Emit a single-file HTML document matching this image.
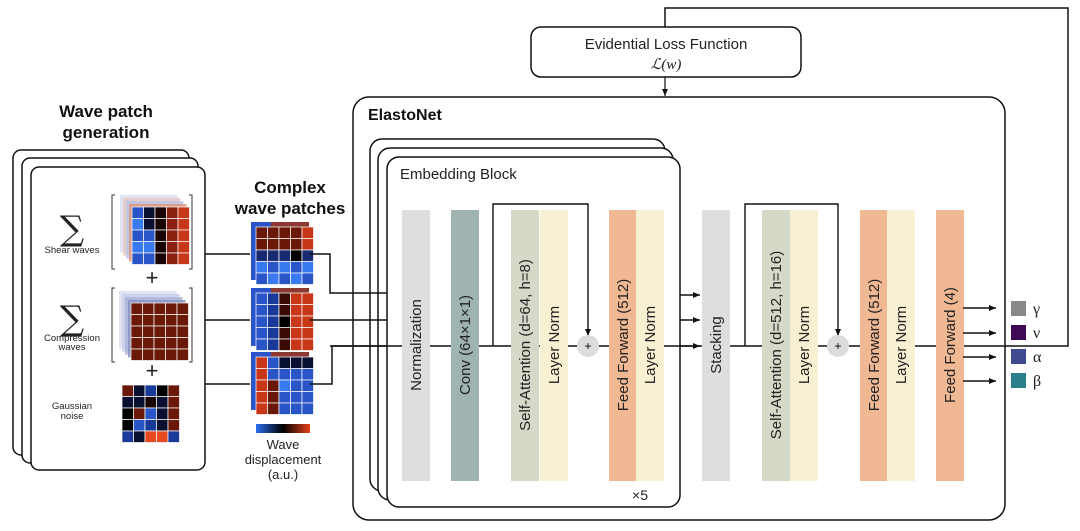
<!DOCTYPE html>
<html><head><meta charset="utf-8"><style>
html,body{margin:0;padding:0;background:#fff;}
svg{display:block;font-family:"Liberation Sans",sans-serif;}
</style></head><body>
<svg id="s" width="1080" height="531" viewBox="0 0 1080 531" xmlns="http://www.w3.org/2000/svg">
<defs>
<marker id="ar" markerWidth="8" markerHeight="8" refX="7" refY="4" orient="auto" markerUnits="userSpaceOnUse"><path d="M0,1 L7,4 L0,7 z" fill="#111"/></marker>
<linearGradient id="cb" x1="0" x2="1"><stop offset="0" stop-color="#2a6ef0"/><stop offset="0.5" stop-color="#000"/><stop offset="1" stop-color="#e8401a"/></linearGradient>
</defs>
<polyline points="1047,346 1068,346 1068,8 665,8 665,27" fill="none" stroke="#111" stroke-width="1.5"/>
<rect x="531" y="27" width="270" height="50" rx="10" fill="#fff" stroke="#111" stroke-width="1.5"/>
<text x="666" y="49" font-size="15" text-anchor="middle" fill="#222">Evidential Loss Function</text>
<text x="666" y="69" font-size="15" text-anchor="middle" font-style="italic" font-family="Liberation Serif,serif" fill="#222">ℒ(w)</text>
<line x1="665" y1="77" x2="665" y2="96" stroke="#111" stroke-width="1.2" marker-end="url(#ar)"/>
<rect x="353" y="97" width="652" height="423" rx="16" fill="#fff" stroke="#111" stroke-width="1.5"/>
<text x="368" y="120" font-size="16" font-weight="bold" fill="#111">ElastoNet</text>
<rect x="370" y="139" width="295" height="352" rx="12" fill="#fff" stroke="#111" stroke-width="1.5"/>
<rect x="378" y="148" width="295" height="352" rx="12" fill="#fff" stroke="#111" stroke-width="1.5"/>
<rect x="387" y="157" width="293" height="350" rx="12" fill="#fff" stroke="#111" stroke-width="1.5"/>
<text x="400" y="179" font-size="15" fill="#222">Embedding Block</text>
<text x="640" y="500" font-size="14" text-anchor="middle" fill="#222">×5</text>
<line x1="330" y1="346" x2="1047" y2="346" stroke="#111" stroke-width="1.5"/>
<polyline points="493,346 493,204 588,204 588,336" fill="none" stroke="#111" stroke-width="1.4" marker-end="url(#ar)"/>
<polyline points="745,346 745,204 838,204 838,336" fill="none" stroke="#111" stroke-width="1.4" marker-end="url(#ar)"/>
<line x1="680" y1="295" x2="700" y2="295" stroke="#111" stroke-width="1.4" marker-end="url(#ar)"/>
<line x1="680" y1="320" x2="700" y2="320" stroke="#111" stroke-width="1.4" marker-end="url(#ar)"/>
<line x1="680" y1="346" x2="700" y2="346" stroke="#111" stroke-width="1.4" marker-end="url(#ar)"/>
<g id="cols"></g>
<circle cx="588" cy="346" r="11" fill="#dcdcdc"/><text x="588" y="350" font-size="12" text-anchor="middle">+</text>
<circle cx="838" cy="346" r="11" fill="#dcdcdc"/><text x="838" y="350" font-size="12" text-anchor="middle">+</text>
<g stroke="#111" stroke-width="1.4">
<line x1="963" y1="308" x2="996" y2="308" marker-end="url(#ar)"/>
<line x1="963" y1="333" x2="996" y2="333" marker-end="url(#ar)"/>
<line x1="963" y1="357" x2="996" y2="357" marker-end="url(#ar)"/>
<line x1="963" y1="381" x2="996" y2="381" marker-end="url(#ar)"/>
</g>
<rect x="1011" y="301" width="15" height="15" fill="#888"/>
<rect x="1011" y="325" width="15" height="15" fill="#3f0a55"/>
<rect x="1011" y="349" width="15" height="15" fill="#3f4a90"/>
<rect x="1011" y="373" width="15" height="15" fill="#2a7f8a"/>
<g font-family="Liberation Serif,serif" font-size="16" fill="#222">
<text x="1033" y="314">γ</text><text x="1033" y="338">ν</text><text x="1033" y="362">α</text><text x="1033" y="386">β</text></g>
<text x="106" y="117" font-size="17" font-weight="bold" text-anchor="middle" fill="#111">Wave patch</text>
<text x="106" y="138" font-size="17" font-weight="bold" text-anchor="middle" fill="#111">generation</text>
<rect x="13" y="150" width="176" height="305" rx="8" fill="#fff" stroke="#111" stroke-width="1.5"/>
<rect x="22" y="158" width="176" height="305" rx="8" fill="#fff" stroke="#111" stroke-width="1.5"/>
<rect x="31" y="167" width="174" height="303" rx="8" fill="#fff" stroke="#111" stroke-width="1.5"/>
<g font-family="DejaVu Serif,serif" font-size="34" text-anchor="middle" fill="#222"><text x="72" y="240">∑</text><text x="72" y="330">∑</text></g>
<g font-size="9.5" text-anchor="middle" fill="#222">
<text x="72" y="253">Shear waves</text>
<text x="72" y="341">Compression</text><text x="72" y="350">waves</text>
<text x="72" y="409">Gaussian</text><text x="72" y="419">noise</text></g>
<g font-size="22" text-anchor="middle" fill="#222"><text x="152" y="285">+</text><text x="152" y="378">+</text></g>
<g stroke="#333" stroke-width="1" fill="none">
<path d="M115,195 h-3 v74 h3"/><path d="M189,195 h3 v74 h-3"/>
<path d="M115,288 h-3 v74 h3"/><path d="M189,288 h3 v74 h-3"/></g>
<g id="grids"></g>
<text x="290" y="193" font-size="17" font-weight="bold" text-anchor="middle" fill="#111">Complex</text>
<text x="290" y="214" font-size="17" font-weight="bold" text-anchor="middle" fill="#111">wave patches</text>
<g stroke="#111" stroke-width="1.5" fill="none">
<line x1="205" y1="254" x2="250" y2="254"/><line x1="205" y1="320" x2="250" y2="320"/><line x1="205" y1="384" x2="250" y2="384"/>
<polyline points="310,254 330,254 330,293 387,293"/>
<line x1="310" y1="320" x2="387" y2="320"/>
<polyline points="310,384 332,384 332,346 387,346"/></g>
<rect x="256" y="424" width="54" height="9" fill="url(#cb)"/>
<g font-size="13" text-anchor="middle" fill="#222"><text x="283" y="449">Wave</text><text x="283" y="464">displacement</text><text x="283" y="479">(a.u.)</text></g>
</svg>
<script>
var NS="http://www.w3.org/2000/svg";
function el(p,t,a){var e=document.createElementNS(NS,t);for(var k in a)e.setAttribute(k,a[k]);p.appendChild(e);return e;}
var cols=document.getElementById('cols');
var C=[[402,"#dedede","Normalization"],[451,"#9fb3b0","Conv (64×1×1)"],[511,"#d5d9c8","Self-Attention (d=64, h=8)"],[540,"#f8f0d2","Layer Norm"],[609,"#f0b893","Feed Forward (512)"],[636,"#f8f0d2","Layer Norm"],[702,"#dedede","Stacking"],[762,"#d5d9c8","Self-Attention (d=512, h=16)"],[790,"#f8f0d2","Layer Norm"],[860,"#f0b893","Feed Forward (512)"],[887,"#f8f0d2","Layer Norm"],[936,"#f0b893","Feed Forward (4)"]];
C.forEach(function(c){el(cols,'rect',{x:c[0],y:210,width:28,height:271,fill:c[1]});
var t=el(cols,'text',{x:0,y:0,'font-size':15,'text-anchor':'middle',fill:'#222',transform:'translate('+(c[0]+19)+',345) rotate(-90)'});t.textContent=c[2];});
var g=document.getElementById('grids');
var pal=["#1a3a9a","#2a55c8","#3a7af0","#0a1030","#000","#3a0a05","#6a1808","#9a2810","#c83818","#e84a20"];
var noise=["#0a1030","#1a3a9a","#000","#3a0a05","#6a1808","#0a1030","#2a55c8","#6a1808","#1a0505","#e84a20"];
var seed=7;function r(){seed=(seed*9301+49297)%233280;return seed/233280;}
function grid(x,y,s,n,f){for(var i=0;i<n;i++)for(var j=0;j<n;j++){el(g,'rect',{x:x+j*s,y:y+i*s,width:s,height:s,fill:f(i,j),stroke:'#fff','stroke-width':0.7});}}
function stack(x,y,s,n,backs,f){backs.forEach(function(b,k){el(g,'rect',{x:x-(backs.length-k)*3,y:y-(backs.length-k)*3,width:s*n,height:s*n,fill:b,opacity:0.8});});grid(x,y,s,n,f);}
stack(132,207,11.5,5,["#d8dcef","#e8c8c0","#b8c4e8","#e09070"],function(i,j){return j<2?(j==1&&i<2?"#0a1030":pal[1+(i%2)]):j==2?"#1a0505":(j==4?"#c83818":"#8a2010");});
stack(131,303,11.5,5,["#d8dcef","#c8cce8","#a8b4d8","#8890c0"],function(){return "#6a1808";});
grid(122,385,11.5,5,function(){return noise[Math.floor(r()*10)];});
function patch(x,y,f){el(g,'rect',{x:x-5,y:y-5,width:58,height:58,fill:'#8a3a30'});el(g,'rect',{x:x-5,y:y-5,width:20,height:58,fill:'#2a55c8'});grid(x,y,11.5,5,f);}
patch(256,227,function(i,j){return i<2?(j==4?"#c83818":"#6a1808"):(i==2?(j==3?"#000":"#1a2a70"):pal[1+(i+j)%2]);});
patch(256,293,function(i,j){return j==0?"#2a55c8":j==1?"#1a3a9a":j==2?(i==2?"#000":"#3a0a05"):"#c83818";});
patch(256,357,function(i,j){return j==0?"#c83818":(i==0&&j>1?"#0a1030":(i==2&&j==2?"#3a7af0":(j==1&&i>1?"#6a1808":"#2a55c8")));});
</script>
</body></html>
